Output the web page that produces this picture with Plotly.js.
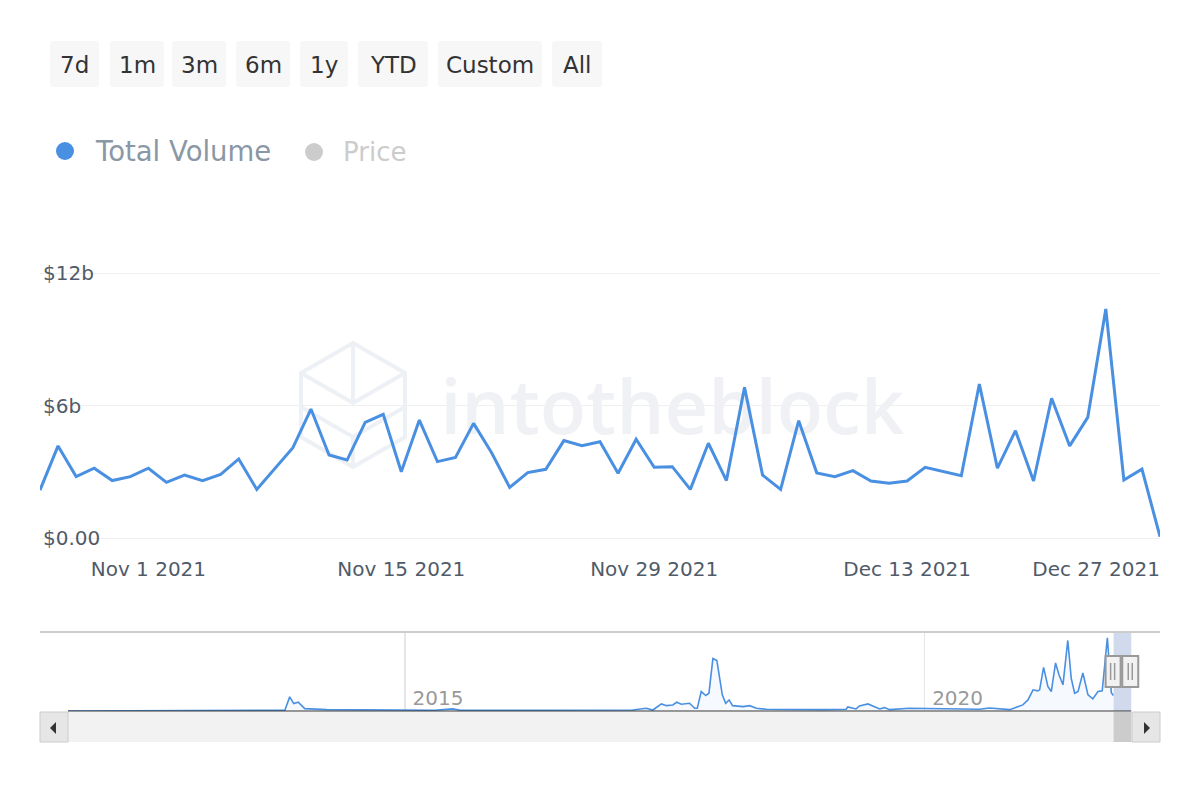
<!DOCTYPE html>
<html><head><meta charset="utf-8">
<script src="https://cdn.plot.ly/plotly-3.0.1.min.js"></script>
<style>html,body{margin:0;padding:0;background:#fff}#chart{width:1200px;height:800px}</style>
</head><body><div id="chart"></div>
<script>
// ---------- data ----------
const dates = [
 '2021-10-26','2021-10-27','2021-10-28','2021-10-29','2021-10-30','2021-10-31',
 '2021-11-01','2021-11-02','2021-11-03','2021-11-04','2021-11-05','2021-11-06','2021-11-07','2021-11-08','2021-11-09','2021-11-10',
 '2021-11-11','2021-11-12','2021-11-13','2021-11-14','2021-11-15','2021-11-16','2021-11-17','2021-11-18','2021-11-19','2021-11-20',
 '2021-11-21','2021-11-22','2021-11-23','2021-11-24','2021-11-25','2021-11-26','2021-11-27','2021-11-28','2021-11-29','2021-11-30',
 '2021-12-01','2021-12-02','2021-12-03','2021-12-04','2021-12-05','2021-12-06','2021-12-07','2021-12-08','2021-12-09','2021-12-10',
 '2021-12-11','2021-12-12','2021-12-13','2021-12-14','2021-12-15','2021-12-16','2021-12-17','2021-12-18','2021-12-19','2021-12-20',
 '2021-12-21','2021-12-22','2021-12-23','2021-12-24','2021-12-25','2021-12-26','2021-12-27'
];
// Total volume, billions of USD
const volume = [
 2.17, 4.17, 2.78, 3.16, 2.60, 2.78,
 3.16, 2.52, 2.85, 2.60, 2.88, 3.58, 2.20, 3.16, 4.09, 5.84,
 3.76, 3.53, 5.24, 5.60, 3.00, 5.34, 3.46, 3.65, 5.19, 3.86,
 2.29, 2.96, 3.11, 4.41, 4.18, 4.36, 2.93, 4.47, 3.20, 3.23,
 2.20, 4.29, 2.60, 6.82, 2.85, 2.20, 5.31, 2.95, 2.78, 3.05,
 2.58, 2.48, 2.58, 3.20, 3.00, 2.82, 6.97, 3.16, 4.86, 2.58,
 6.33, 4.17, 5.46, 10.37, 2.63, 3.12, 0.06
];
const yTickVals = [0, 6, 12];
const yTickText = ['$0.00', '$6b', '$12b'];
const xTickVals = ['2021-11-01', '2021-11-15', '2021-11-29', '2021-12-13'];
const xTickLast = ['2021-12-27'];

// navigator (full history overview), billions of USD
const navDates = [
 '2011-10-05','2012-06-01','2013-03-01','2013-08-01','2013-11-05','2013-11-22','2013-12-06','2013-12-22','2014-01-14','2014-04-01',
 '2014-09-01','2015-01-01','2015-04-15','2015-06-18','2015-07-15','2016-01-01','2016-07-01','2017-01-01','2017-03-11','2017-04-28',
 '2017-05-21','2017-06-20','2017-07-08','2017-07-30','2017-08-13','2017-08-29','2017-09-27','2017-10-15','2017-10-24','2017-11-07',
 '2017-11-23','2017-12-04','2017-12-18','2018-01-01','2018-01-13','2018-01-20','2018-02-01','2018-02-13','2018-02-25','2018-04-03',
 '2018-04-26','2018-05-20','2018-06-24','2018-10-19','2019-01-15','2019-03-31','2019-04-06','2019-05-05','2019-05-17','2019-06-16',
 '2019-07-03','2019-07-27','2019-08-13','2019-08-31','2019-11-08','2020-01-06','2020-03-15','2020-07-12','2020-08-16','2020-10-26',
 '2020-12-11','2020-12-29','2021-01-16','2021-02-02','2021-02-08','2021-02-22','2021-03-09','2021-03-21','2021-04-05','2021-04-17',
 '2021-05-01','2021-05-18','2021-05-30','2021-06-11','2021-06-23','2021-07-10','2021-07-28','2021-08-14','2021-09-01','2021-09-16',
 '2021-10-04','2021-10-12','2021-10-18','2021-10-25'
];
const navValues = [
 0, 0, 0, 0, 0.1, 2.0, 1.05, 1.24, 0.33, 0.2,
 0.15, 0.12, 0.1, 0.3, 0.1, 0.1, 0.12, 0.1, 0.15, 0.38,
 0.14, 1.0, 0.76, 0.86, 1.24, 0.95, 1.1, 0.38, 0.38, 2.76,
 2.19, 2.52, 7.43, 7.14, 3.71, 2.29, 1.1, 1.57, 0.76, 0.62,
 0.76, 0.38, 0.24, 0.19, 0.2, 0.24, 0.57, 0.29, 0.71, 1.0,
 0.67, 0.29, 0.48, 0.19, 0.38, 0.33, 0.24, 0.24, 0.43, 0.19,
 0.86, 1.57, 3.0, 2.86, 3.0, 6.19, 3.48, 2.76, 6.81, 5.14,
 3.71, 10.0, 4.67, 2.52, 2.76, 5.38, 2.29, 1.71, 2.76, 2.86,
 10.38, 6.0, 2.6, 2.2
];
const navTickVals = ['2015-01-01', '2020-01-01'];
const navTickText = ['2015', '2020'];

const rangeButtons = ['7d', '1m', '3m', '6m', '1y', 'YTD', 'Custom', 'All'];
const legendNames = ['Total Volume', 'Price'];

// ---------- helpers (pixel -> paper) ----------
const W = 1200, H = 800;
const X = px => px / W, Y = py => 1 - py / H;
function rrect(x0, y0, x1, y1, r) {
  return `M${X(x0 + r)},${Y(y0)} L${X(x1 - r)},${Y(y0)} Q${X(x1)},${Y(y0)} ${X(x1)},${Y(y0 + r)} ` +
         `L${X(x1)},${Y(y1 - r)} Q${X(x1)},${Y(y1)} ${X(x1 - r)},${Y(y1)} L${X(x0 + r)},${Y(y1)} ` +
         `Q${X(x0)},${Y(y1)} ${X(x0)},${Y(y1 - r)} L${X(x0)},${Y(y0 + r)} Q${X(x0)},${Y(y0)} ${X(x0 + r)},${Y(y0)} Z`;
}
function poly(pts, close) {
  return pts.map((p, i) => (i ? 'L' : 'M') + X(p[0]) + ',' + Y(p[1])).join(' ') + (close ? ' Z' : '');
}

const FONT = 'DejaVu Sans, Verdana, sans-serif';
const first = dates[0], last = dates[dates.length - 1];

// main plot geometry: value 0 at 538px, 12 at 273px, padded so edge grid lines/labels show
const pxPerB = (538 - 273) / 12, pad = 0.6;

// navigator: data spans 68px..1131px; axis area extended to 1160px so end handle is not clipped
const navL = 68, navR = 1131, navEdge = 1160;
const t0 = Date.parse(navDates[0]), t1 = Date.parse(last);
const navEnd = new Date(t1 + (t1 - t0) * (navEdge - navR) / (navR - navL)).toISOString().slice(0, 10);

// ---------- traces ----------
const traces = [
  { // watermark
    x: [dates[35]], y: [5.55], xaxis: 'x', yaxis: 'y', mode: 'text', text: ['intotheblock'],
    textposition: 'middle center', cliponaxis: false,
    textfont: { family: 'Open Sans, sans-serif', size: 76, weight: 600, color: '#eff1f5' },
    hoverinfo: 'skip', showlegend: false
  },
  {
    x: dates, y: volume, xaxis: 'x', yaxis: 'y', mode: 'lines', name: legendNames[0],
    line: { color: '#4a90e2', width: 3 }, showlegend: false
  },
  {
    x: navDates, y: navValues, xaxis: 'x2', yaxis: 'y2', mode: 'lines', name: 'navigator',
    line: { color: '#4a90e2', width: 1.6 }, fill: 'tozeroy', fillcolor: 'rgba(74,144,226,0.05)',
    showlegend: false, hoverinfo: 'skip'
  }
];

// ---------- shapes ----------
const shapes = [];
const buttonBoxes = [[50, 99], [110, 164], [172, 226], [236, 290], [300, 348], [358, 428], [438, 542], [552, 602]];
buttonBoxes.forEach(b => shapes.push({ type: 'path', xref: 'paper', yref: 'paper', path: rrect(b[0], 41, b[1], 87, 3),
  fillcolor: '#f7f7f7', line: { width: 0 } }));
// legend markers
shapes.push({ type: 'circle', xref: 'paper', yref: 'paper', x0: X(56), x1: X(74), y0: Y(160), y1: Y(142), fillcolor: '#4a90e2', line: { width: 0 } });
shapes.push({ type: 'circle', xref: 'paper', yref: 'paper', x0: X(305), x1: X(323), y0: Y(161), y1: Y(143), fillcolor: '#cccccc', line: { width: 0 } });
// watermark cube
const cubeStyle = { color: '#edf0f4', width: 4 };
shapes.push({ type: 'path', xref: 'paper', yref: 'paper', layer: 'below', line: cubeStyle,
  path: poly([[353, 343], [405, 373], [405, 437], [353, 467], [301, 437], [301, 373]], true) });
shapes.push({ type: 'path', xref: 'paper', yref: 'paper', layer: 'below', line: cubeStyle,
  path: poly([[301, 373], [353, 403], [405, 373]], false) });
shapes.push({ type: 'path', xref: 'paper', yref: 'paper', layer: 'below', line: cubeStyle,
  path: poly([[353, 343], [353, 403]], false) });
shapes.push({ type: 'path', xref: 'paper', yref: 'paper', layer: 'below', line: cubeStyle,
  path: poly([[301, 407], [353, 437], [405, 407]], false) });
shapes.push({ type: 'path', xref: 'paper', yref: 'paper', layer: 'below', line: cubeStyle,
  path: poly([[353, 437], [353, 467]], false) });
// navigator outline top
shapes.push({ type: 'line', xref: 'paper', yref: 'paper', x0: X(40), x1: X(1160), y0: Y(632), y1: Y(632), line: { color: '#cccccc', width: 2 } });
// navigator baseline (data extent only)
shapes.push({ type: 'line', xref: 'x2', yref: 'paper', x0: navDates[0], x1: last, y0: Y(711), y1: Y(711), line: { color: '#333333', width: 1 } });
// selection mask
shapes.push({ type: 'rect', xref: 'x2', yref: 'paper', x0: first, x1: last, y0: Y(711), y1: Y(632),
  fillcolor: 'rgba(102,133,194,0.3)', line: { width: 0 }, layer: 'below' });
// scrollbar
shapes.push({ type: 'rect', xref: 'paper', yref: 'paper', x0: X(40), x1: X(1160), y0: Y(742), y1: Y(712), fillcolor: '#f2f2f2', line: { width: 0 } });
shapes.push({ type: 'rect', xref: 'x2', yref: 'paper', x0: first, x1: last, y0: Y(742), y1: Y(712), fillcolor: '#cccccc', line: { width: 0 } });
shapes.push({ type: 'rect', xref: 'paper', yref: 'paper', x0: X(40), x1: X(68), y0: Y(742), y1: Y(712), fillcolor: '#e6e6e6', line: { color: '#cccccc', width: 1 } });
shapes.push({ type: 'rect', xref: 'paper', yref: 'paper', x0: X(1132), x1: X(1160), y0: Y(742), y1: Y(712), fillcolor: '#e6e6e6', line: { color: '#cccccc', width: 1 } });
shapes.push({ type: 'path', xref: 'paper', yref: 'paper', path: poly([[56, 722], [50, 728], [56, 734]], true), fillcolor: '#333333', line: { width: 0 } });
shapes.push({ type: 'path', xref: 'paper', yref: 'paper', path: poly([[1144, 722], [1150, 728], [1144, 734]], true), fillcolor: '#333333', line: { width: 0 } });
// handles
[[first, -8, 7], [last, -9, 7]].forEach(h => {
  shapes.push({ type: 'rect', xref: 'x2', xsizemode: 'pixel', xanchor: h[0], x0: h[1], x1: h[2], yref: 'paper', y0: Y(687), y1: Y(656),
    fillcolor: '#f2f2f2', line: { color: '#999999', width: 2 } });
  [-3, 1].forEach(o => shapes.push({ type: 'line', xref: 'x2', xsizemode: 'pixel', xanchor: h[0], x0: o, x1: o, yref: 'paper', y0: Y(680), y1: Y(663),
    line: { color: '#999999', width: 1.5 } }));
});

// ---------- annotations ----------
const annotations = [];
buttonBoxes.forEach((b, i) => annotations.push({ xref: 'paper', yref: 'paper', x: X((b[0] + b[1]) / 2), y: Y(65), text: rangeButtons[i],
  showarrow: false, xanchor: 'center', yanchor: 'middle', font: { family: FONT, size: 23, color: '#333333' } }));
annotations.push({ xref: 'paper', yref: 'paper', x: X(93), y: Y(151), text: legendNames[0], showarrow: false, xanchor: 'left', yanchor: 'middle',
  font: { family: FONT, size: 27.5, color: '#8a97a5' } });
annotations.push({ xref: 'paper', yref: 'paper', x: X(341), y: Y(152), text: legendNames[1], showarrow: false, xanchor: 'left', yanchor: 'middle',
  font: { family: FONT, size: 26, color: '#cccccc' } });

const tickFont = { family: FONT, size: 20, color: '#505b69' };

const layout = {
  width: W, height: H, margin: { l: 0, r: 0, t: 0, b: 0 },
  paper_bgcolor: '#ffffff', plot_bgcolor: 'rgba(0,0,0,0)', showlegend: false,
  xaxis: { domain: [X(40), X(1160)], type: 'date', range: [first, last], anchor: 'y',
    tickmode: 'array', tickvals: xTickVals, tickformat: '%b %-d %Y', ticks: '', ticklabelstandoff: 4,
    showgrid: false, zeroline: false, showline: false, tickfont: tickFont, fixedrange: true },
  xaxis3: { overlaying: 'x', type: 'date', range: [first, last], anchor: 'y', side: 'bottom',
    tickmode: 'array', tickvals: xTickLast, tickformat: '%b %-d %Y', ticks: '', ticklabelstandoff: 4,
    ticklabelposition: 'outside left',
    showgrid: false, zeroline: false, showline: false, tickfont: tickFont, fixedrange: true },
  yaxis: { domain: [Y(538 + pad * pxPerB), Y(273 - pad * pxPerB)], range: [-pad, 12 + pad], anchor: 'x',
    tickmode: 'array', tickvals: yTickVals, ticktext: yTickText,
    ticklabelposition: 'inside', ticklabeloverflow: 'allow', ticks: '', showgrid: true, gridcolor: '#efefef', gridwidth: 1,
    zeroline: false, showline: false, tickfont: tickFont, fixedrange: true },
  xaxis2: { domain: [X(navL), X(navEdge)], type: 'date', range: [navDates[0], navEnd], anchor: 'y2',
    tickmode: 'array', tickvals: navTickVals, ticktext: navTickText, ticklabelposition: 'inside right', ticklabelshift: 7, ticks: '',
    showgrid: true, gridcolor: '#e6e6e6', gridwidth: 1.5, zeroline: false, showline: true, linecolor: 'rgba(0,0,0,0)', linewidth: 1,
    tickfont: { family: FONT, size: 20, color: '#999999' }, fixedrange: true },
  yaxis2: { domain: [Y(711), Y(632)], range: [0, 11.2], anchor: 'x2', showgrid: false, zeroline: false, showticklabels: false,
    ticks: '', showline: false, fixedrange: true },
  shapes: shapes, annotations: annotations
};

// carrier trace so the extra date axis (last tick label) is drawn
traces.push({ x: [last], y: [null], xaxis: 'x3', yaxis: 'y', mode: 'lines', showlegend: false, hoverinfo: 'skip' });

Plotly.newPlot('chart', traces, layout, { displayModeBar: false, staticPlot: true });
</script>
</body></html>
